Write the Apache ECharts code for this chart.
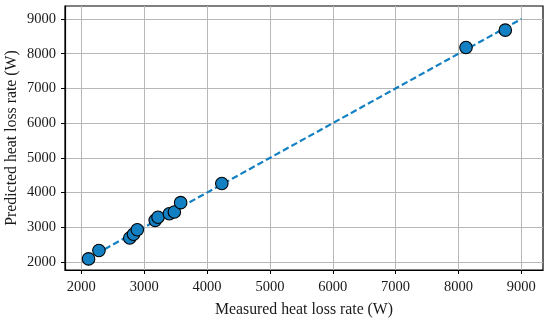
<!DOCTYPE html>
<html>
<head>
<meta charset="utf-8">
<script src="https://cdn.jsdelivr.net/npm/echarts@6/dist/echarts.min.js"></script>
<style>
html,body{margin:0;padding:0;background:#fff;}
#c{width:550px;height:323px;}
</style>
</head>
<body>
<div id="c"></div>
<script>
// Data
const measured  = [2115, 2280, 2770, 2830, 2890, 3175, 3220, 3400, 3480, 3580, 4235, 8120, 8745];
const predicted = [2090, 2330, 2690, 2800, 2930, 3200, 3290, 3390, 3440, 3710, 4260, 8180, 8680];
const idealX = [2100, 9000];
const idealY = [2100, 9000];
const xTicks = [2000, 3000, 4000, 5000, 6000, 7000, 8000, 9000];
const yTicks = [2000, 3000, 4000, 5000, 6000, 7000, 8000, 9000];
const xTitle = 'Measured heat loss rate (W)';
const yTitle = 'Predicted heat loss rate (W)';

const blue = '#1380c3';
const font = '"Liberation Serif", "DejaVu Serif", serif';

const chart = echarts.init(document.getElementById('c'), null, {renderer: 'canvas'});

function axisCommon(ticks, margin) {
  return {
    type: 'value',
    axisLine: {show: true, onZero: false, lineStyle: {color: '#000', width: 1.2}},
    axisTick: {show: true, inside: false, length: 4, customValues: ticks, lineStyle: {color: '#000', width: 1}},
    axisLabel: {customValues: ticks, color: '#1a1a1a', fontFamily: font, fontSize: 14.5, margin: margin,
      formatter: v => String(v)},
    splitLine: {show: true, lineStyle: {color: '#b8b8b8', width: 1}},
    nameMoveOverlap: false,
    nameTextStyle: {color: '#1a1a1a', fontFamily: font, fontSize: 15.8}
  };
}

const xAxis = Object.assign(axisCommon(xTicks, 10), {
  min: 1740, max: 9345, interval: 1000,
  name: xTitle, nameLocation: 'middle', nameGap: 32
});
const yAxis = Object.assign(axisCommon(yTicks, 9), {
  min: 1770, max: 9375, interval: 1000,
  name: yTitle, nameLocation: 'middle', nameGap: 45
});

chart.setOption({
  animation: false,
  backgroundColor: '#fff',
  grid: {left: 65, right: 7, top: 6, bottom: 53, show: true, borderColor: '#000', borderWidth: 1.2,
         containLabel: false, outerBoundsMode: 'none'},
  xAxis: xAxis,
  yAxis: yAxis,
  series: [
    {
      type: 'line',
      data: idealX.map((v, i) => [v, idealY[i]]),
      symbol: 'none',
      lineStyle: {color: blue, width: 2.2, type: [6.5, 3.2]},
      z: 2
    },
    {
      type: 'scatter',
      data: measured.map((v, i) => [v, predicted[i]]),
      symbolSize: 12.5,
      itemStyle: {color: blue, borderColor: '#000', borderWidth: 1.1, opacity: 1},
      z: 3
    }
  ]
});
</script>
</body>
</html>
